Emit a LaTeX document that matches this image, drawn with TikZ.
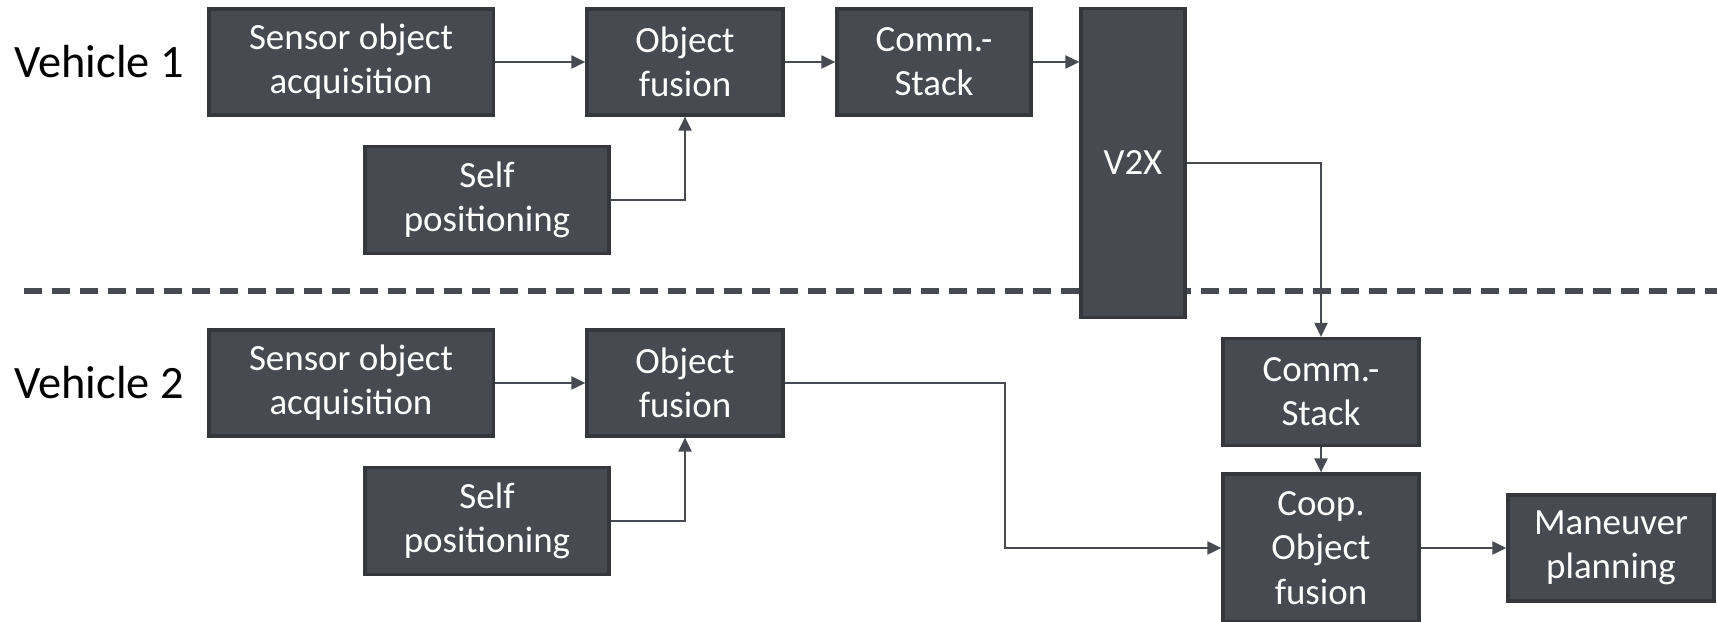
\documentclass[tikz,border=0pt]{standalone}
\usepackage{fontspec}
\setmainfont{Carlito}
\usepackage{tikz}
\usetikzlibrary{arrows.meta,positioning}
\definecolor{boxfill}{HTML}{474A51}
\definecolor{boxline}{HTML}{35373C}

\begin{document}
\begin{tikzpicture}[
x=0.01cm, y=-0.01cm,
block/.style={draw=boxline, line width=0.9pt, fill=boxfill, text=white, align=center, inner sep=0pt,
  minimum width=1.96cm, minimum height=1.06cm, font=\fontsize{10.5}{12.6}\selectfont},
vlabel/.style={font=\fontsize{13.2}{15}\selectfont, text=black},
flow/.style={draw=boxfill, line width=0.6pt, -{Triangle[length=1.4mm,width=1.3mm]}}
]
    \useasboundingbox (0,0) rectangle (1717,622);

    % Vehicle 1
    \node[vlabel] (veh1) at (99,62) {Vehicle 1};
    \node[block, minimum width=2.84cm] (sen1) at (351,62) {Sensor object\\acquisition};
    \node[block] (fus1) at (685,62) {Object\\fusion};
    \node[block, minimum width=1.94cm] (com1) at (934,62) {Comm.-\\Stack};
    \node[block, minimum width=2.44cm, minimum height=1.07cm] (pos1) at (487,200) {Self\\positioning};

    % Separator
    \draw[boxfill, line width=1.5pt, dash pattern=on 1.8mm off 1mm] (24,291) -- (1717,291);

    \node[block, minimum width=1.04cm, minimum height=3.09cm] (v2x) at (1133,163) {V2X};

    % Vehicle 2
    \node[vlabel] (veh2) at (99,383) {Vehicle 2};
    \node[block, minimum width=2.84cm] (sen2) at (351,383) {Sensor object\\acquisition};
    \node[block] (fus2) at (685,383) {Object\\fusion};
    \node[block, minimum width=2.44cm, minimum height=1.07cm] (pos2) at (487,521) {Self\\positioning};
    \node[block, minimum height=1.07cm] (com2) at (1321,392) {Comm.-\\Stack};
    \node[block, minimum height=1.48cm] (coop) at (1321,548) {Coop.\\Object\\fusion};
    \node[block, minimum width=2.06cm] (man) at (1611,548) {Maneuver\\planning};

    % Arrows
    \draw[flow] (sen1) -- (fus1);
    \draw[flow] (fus1) -- (com1);
    \draw[flow] (com1.east) -- (com1.east -| v2x.west);
    \draw[flow] (pos1.east) -| (fus1.south);
    \draw[flow] (v2x.east) -| (com2.north);
    \draw[flow] (sen2) -- (fus2);
    \draw[flow] (pos2.east) -| (fus2.south);
    \draw[flow] (fus2.east) -- ++(220,0) |- (coop.west);
    \draw[flow] (com2) -- (coop);
    \draw[flow] (coop) -- (man);
\end{tikzpicture}
\end{document}
